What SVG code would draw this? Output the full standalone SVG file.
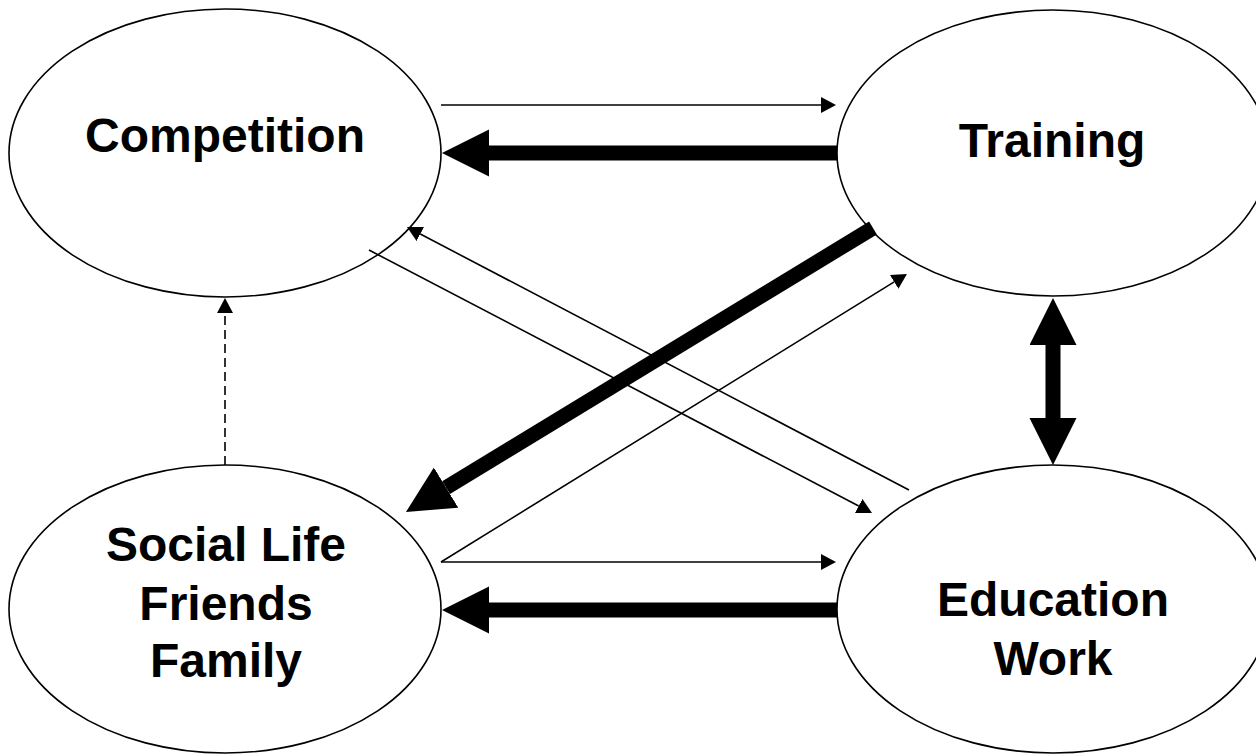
<svg xmlns="http://www.w3.org/2000/svg" width="1256" height="754" viewBox="0 0 1256 754">
<defs>
<style>
.node ellipse{fill:#fff;stroke:#000;stroke-width:1.6}
.node text{font-family:"Liberation Sans",Arial,sans-serif;font-weight:bold;font-size:48px;fill:#000;text-anchor:middle}
.thin{stroke:#000;stroke-width:1.6;fill:none}
.thick{stroke:#000;stroke-width:15;fill:none}
.dash{stroke:#000;stroke-width:1.6;fill:none;stroke-dasharray:9 5}
</style>
<marker id="ah" markerUnits="userSpaceOnUse" markerWidth="16" markerHeight="16" refX="0" refY="8" orient="auto-start-reverse" viewBox="0 0 16 16">
<path d="M0,0 L15,8 L0,16 z" fill="#000"/>
</marker>
<marker id="AH" markerUnits="userSpaceOnUse" markerWidth="48" markerHeight="48" refX="0" refY="23.5" orient="auto-start-reverse" viewBox="0 0 48 48">
<path d="M0,0 L47,23.5 L0,47 z" fill="#000"/>
</marker>
</defs>
<rect width="1256" height="754" fill="#fff"/>
<g id="competition" class="node">
<ellipse cx="225" cy="153" rx="216" ry="144"/>
<text x="225" y="152">Competition</text>
</g>
<g id="training" class="node">
<ellipse cx="1053" cy="153" rx="216" ry="143"/>
<text x="1052" y="157">Training</text>
</g>
<g id="social" class="node">
<ellipse cx="225" cy="609" rx="216" ry="144"/>
<text x="226" y="561">Social Life</text>
<text x="226" y="620">Friends</text>
<text x="226" y="677">Family</text>
</g>
<g id="education" class="node">
<ellipse cx="1053" cy="609" rx="216" ry="144"/>
<text x="1053" y="616">Education</text>
<text x="1053" y="675">Work</text>
</g>
<g id="connectors">
<line class="thin" x1="441" y1="105" x2="821" y2="105" marker-end="url(#ah)"/>
<line class="thick" x1="837" y1="153" x2="489" y2="153" marker-end="url(#AH)"/>
<line class="thin" x1="441" y1="562" x2="821" y2="562" marker-end="url(#ah)"/>
<line class="thick" x1="837" y1="610" x2="489" y2="610" marker-end="url(#AH)"/>
<line class="thin" x1="369" y1="250" x2="858.7" y2="506" marker-end="url(#ah)"/>
<line class="thin" x1="909" y1="490" x2="420.3" y2="234" marker-end="url(#ah)"/>
<line class="thin" x1="441" y1="562" x2="894.2" y2="281.9" marker-end="url(#ah)"/>
<line class="thick" x1="873" y1="228" x2="446.1" y2="487.6" marker-end="url(#AH)"/>
<line class="thick" x1="1053" y1="345" x2="1053" y2="418" marker-start="url(#AH)" marker-end="url(#AH)"/>
<line class="dash" x1="225" y1="465" x2="225" y2="313" marker-end="url(#ah)"/>
</g>
</svg>
